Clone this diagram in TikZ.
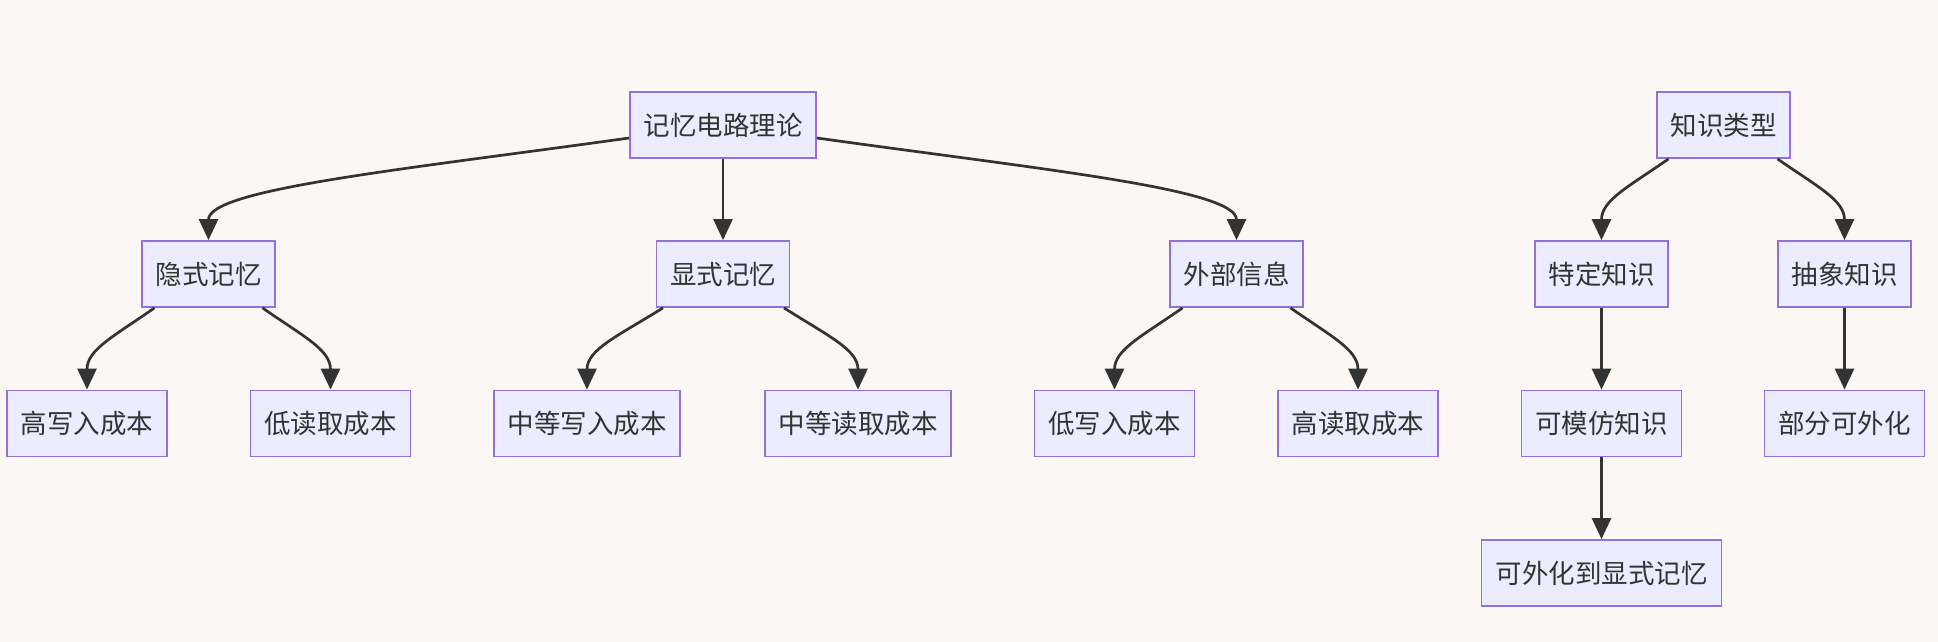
\documentclass[tikz,border=0pt]{standalone}
\usepackage{fontspec}
\setmainfont{Noto Sans CJK SC}
\usetikzlibrary{arrows.meta}
\definecolor{bgc}{HTML}{FAF7F5}
\definecolor{nodefill}{HTML}{ECECFF}
\definecolor{nodeborder}{HTML}{9370DB}
\definecolor{edgec}{HTML}{333333}
\tikzset{
  box/.style={draw=nodeborder, fill=nodefill, line width=1.8pt, minimum height=66pt,
    inner xsep=0pt, inner ysep=0pt, font=\fontsize{26.5}{30}\selectfont, text=edgec},
  wa/.style={minimum width=133pt},
  wb/.style={minimum width=160pt},
  wc/.style={minimum width=186pt},
  wd/.style={minimum width=240pt},
  link/.style={draw=edgec, line width=2.7pt, -{Triangle[length=21pt,width=19pt]}}
}
\begin{document}
\begin{tikzpicture}[x=1pt,y=-1pt]
\fill[bgc] (0,0) rectangle (1938,642);
\useasboundingbox (0,0) rectangle (1938,642);

\node[box,wc] (root) at (723,125) {记忆电路理论};
\node[box,wa] (im) at (208.5,274) {隐式记忆};
\node[box,wa] (ex) at (723,274) {显式记忆};
\node[box,wa] (ext) at (1236.5,274) {外部信息};
\node[box,wb] (n1) at (87,423.5) {高写入成本};
\node[box,wb] (n2) at (330.5,423.5) {低读取成本};
\node[box,wc] (n3) at (587,423.5) {中等写入成本};
\node[box,wc] (n4) at (858,423.5) {中等读取成本};
\node[box,wb] (n5) at (1114.5,423.5) {低写入成本};
\node[box,wb] (n6) at (1358,423.5) {高读取成本};
\node[box,wa] (kt) at (1723.5,125) {知识类型};
\node[box,wa] (sp) at (1601.5,274) {特定知识};
\node[box,wa] (ab) at (1844.5,274) {抽象知识};
\node[box,wb] (mo) at (1601.5,423.5) {可模仿知识};
\node[box,wb] (pa) at (1844.5,423.5) {部分可外化};
\node[box,wd] (ee) at (1601.5,573) {可外化到显式记忆};

% root edges
\draw[link] ([yshift=-13pt]root.west) .. controls +(-229,32) and +(0,-51) .. (im.north);
\draw[link] (root.south) -- (ex.north);
\draw[link] ([yshift=-13pt]root.east) .. controls +(229,32) and +(0,-51) .. (ext.north);

% second level
\draw[link] ([xshift=-54pt]im.south) .. controls +(-40,28) and +(0,-40) .. (n1.north);
\draw[link] ([xshift=54pt]im.south) .. controls +(40,28) and +(0,-40) .. (n2.north);
\draw[link] ([xshift=-60pt]ex.south) .. controls +(-45,28) and +(0,-40) .. (n3.north);
\draw[link] ([xshift=61pt]ex.south) .. controls +(44,28) and +(0,-40) .. (n4.north);
\draw[link] ([xshift=-54pt]ext.south) .. controls +(-40,28) and +(0,-40) .. (n5.north);
\draw[link] ([xshift=54pt]ext.south) .. controls +(40,28) and +(0,-40) .. (n6.north);

% knowledge tree
\draw[link] ([xshift=-55pt]kt.south) .. controls +(-40,28) and +(0,-40) .. (sp.north);
\draw[link] ([xshift=54pt]kt.south) .. controls +(40,28) and +(0,-40) .. (ab.north);
\draw[link] (sp.south) -- (mo.north);
\draw[link] (mo.south) -- (ee.north);
\draw[link] (ab.south) -- (pa.north);
\end{tikzpicture}
\end{document}
